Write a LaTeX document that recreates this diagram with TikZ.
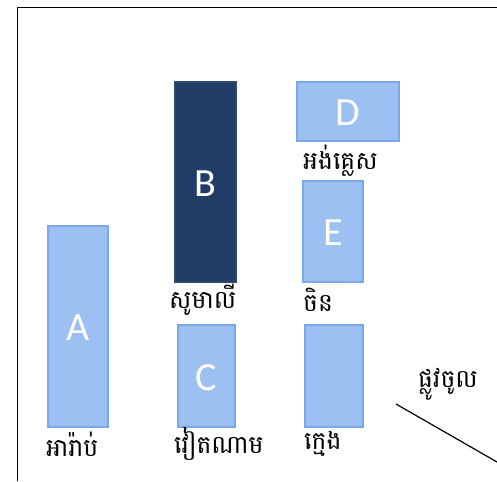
\documentclass[tikz,border=0pt]{standalone}
\usepackage{fontspec}
\setmainfont{Carlito}
\newfontfamily\khmerfont[Script=Khmer]{Battambang}
\definecolor{lightbox}{HTML}{9DC0F3}
\definecolor{lightedge}{HTML}{7BA7EC}
\definecolor{darkbox}{HTML}{1F3D66}
\definecolor{darkedge}{HTML}{2E4A70}
\begin{document}
\begin{tikzpicture}[x=1pt,y=-1pt,
  seat/.style={fill=lightbox,draw=lightedge,line width=1.2pt},
  darkseat/.style={fill=darkbox,draw=darkedge,line width=1.2pt},
  letter/.style={text=white,font=\fontsize{40}{40}\selectfont},
  lab/.style={anchor=west,font=\khmerfont\fontsize{25}{28}\selectfont,inner sep=0pt}]
\useasboundingbox (0,0) rectangle (497,481);
\coordinate (fa) at (17,481);
\coordinate (fb) at (17,8);
\coordinate (fc) at (497,8);
\draw[line width=1pt] (fa) -- (fb) -- (fc);
% boxes
\path[seat] (48,226) rectangle (108,427);
\node[letter] (A) at (78,328) {A};
\path[darkseat] (175,82) rectangle (236,282);
\node[letter] (B) at (205.5,184) {B};
\path[seat] (178,325) rectangle (235,427);
\node[letter] (C) at (206.5,378) {C};
\path[seat] (297,82) rectangle (399,141);
\node[letter] (D) at (348,113) {D};
\path[seat] (303,181) rectangle (363,282);
\node[letter] (E) at (333,233) {E};
\path[seat] (305,325) rectangle (363,427);
% labels
\node[lab] (la) at (46,444) {អារ៉ាប់};
\node[lab] (lb) at (169,300) {សូមាលី};
\node[lab] (lc) at (174,444) {វៀតណាម};
\node[lab] (ld) at (303,161) {អង់គ្លេស};
\node[lab] (le) at (303,300) {ចិន};
\node[lab] (lf) at (304,444) {ក្មេង};
\node[lab] (lg) at (418,384) {ផ្លូវចូល};
\coordinate (ea) at (396,404);
\coordinate (eb) at (497,462);
\draw[line width=1.2pt] (ea) -- (eb);
\end{tikzpicture}
\end{document}
